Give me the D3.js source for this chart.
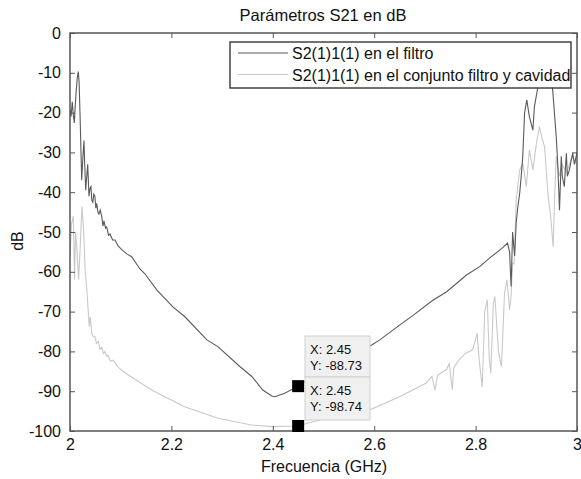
<!DOCTYPE html>
<html>
<head>
<meta charset="utf-8">
<script src="https://cdn.jsdelivr.net/npm/d3@7"></script>
<style>
  html, body { margin: 0; padding: 0; background: #fff; }
  svg { display: block; font-family: "Liberation Sans", Arial, sans-serif; }
</style>
</head>
<body>
<svg id="chart" width="581" height="479"></svg>
<script>
// ---- Data ----
const title = "Parámetros S21 en dB";
const xLabel = "Frecuencia (GHz)";
const yLabel = "dB";
const xTicks = [2, 2.2, 2.4, 2.6, 2.8, 3];
const xTickLabels = ["2", "2.2", "2.4", "2.6", "2.8", "3"];
const yTicks = [0, -10, -20, -30, -40, -50, -60, -70, -80, -90, -100];
const yTickLabels = ["0", "-10", "-20", "-30", "-40", "-50", "-60", "-70", "-80", "-90", "-100"];
const seriesNames = ["S2(1)1(1) en el filtro", "S2(1)1(1) en el conjunto filtro y cavidad"];

// Series 1: filter
const freqFiltro = [2.000, 2.002, 2.0045, 2.0065, 2.0085, 2.010, 2.012, 2.0145, 2.0164, 2.018, 2.0197, 2.0215, 2.0231, 2.0255, 2.0276, 2.029, 2.031, 2.033, 2.0349, 2.0362, 2.0374, 2.0395, 2.0414, 2.043, 2.045, 2.047, 2.049, 2.051, 2.0526, 2.055, 2.057, 2.0595, 2.0625, 2.065, 2.067, 2.070, 2.0723, 2.076, 2.079, 2.084, 2.0887, 2.095, 2.1025, 2.112, 2.1216, 2.138, 2.1478, 2.1714, 2.203, 2.2266, 2.270, 2.2916, 2.335, 2.3586, 2.3803, 2.398, 2.404, 2.4236, 2.45, 2.50, 2.55, 2.595, 2.611, 2.650, 2.676, 2.715, 2.743, 2.782, 2.808, 2.828, 2.853, 2.863, 2.867, 2.870, 2.873, 2.877, 2.880, 2.883, 2.887, 2.890, 2.893, 2.8966, 2.901, 2.906, 2.913, 2.916, 2.923, 2.930, 2.938, 2.946, 2.952, 2.959, 2.962, 2.9655, 2.969, 2.971, 2.975, 2.979, 2.981, 2.985, 2.9915, 2.995, 3.000];
const dbFiltro   = [-19.3, -21.0, -17.3, -20.5, -22.6, -19.0, -15.0, -11.0, -9.7, -12.5, -20.0, -29.0, -37.0, -31.0, -27.0, -33.0, -39.5, -36.0, -33.0, -37.0, -41.0, -39.0, -38.6, -42.0, -42.5, -40.5, -41.0, -44.0, -42.8, -45.0, -45.5, -44.5, -46.0, -48.5, -47.2, -49.0, -48.7, -50.8, -50.5, -52.0, -52.0, -53.5, -54.5, -55.5, -56.2, -59.3, -60.5, -64.6, -68.8, -71.3, -77.1, -78.8, -83.8, -86.3, -89.7, -91.2, -91.4, -90.5, -88.73, -84.5, -81.3, -78.4, -77.1, -73.4, -71.0, -67.2, -65.0, -60.8, -58.7, -56.5, -54.0, -52.8, -55.0, -63.7, -50.0, -56.0, -47.8, -44.0, -40.2, -36.0, -31.0, -20.1, -16.8, -21.0, -24.4, -18.5, -13.5, -8.0, -7.0, -9.0, -14.3, -26.0, -32.8, -44.5, -31.0, -36.0, -38.6, -30.2, -36.0, -34.4, -30.2, -33.0, -30.0];

// Series 2: filter + cavity
const freqCavidad = [2.000, 2.003, 2.0065, 2.009, 2.011, 2.014, 2.017, 2.020, 2.0236, 2.027, 2.030, 2.033, 2.036, 2.038, 2.040, 2.043, 2.046, 2.049, 2.052, 2.056, 2.059, 2.063, 2.066, 2.069, 2.072, 2.075, 2.080, 2.085, 2.095, 2.110, 2.128, 2.161, 2.226, 2.292, 2.358, 2.400, 2.450, 2.470, 2.500, 2.550, 2.595, 2.650, 2.702, 2.714, 2.720, 2.725, 2.743, 2.748, 2.754, 2.757, 2.768, 2.780, 2.794, 2.800, 2.803, 2.807, 2.813, 2.818, 2.823, 2.827, 2.830, 2.835, 2.838, 2.845, 2.851, 2.857, 2.862, 2.867, 2.870, 2.873, 2.876, 2.880, 2.887, 2.893, 2.900, 2.906, 2.913, 2.920, 2.926, 2.930, 2.936, 2.943, 2.948, 2.953, 2.956, 2.959, 2.965, 2.970, 2.980, 2.990, 3.000];
const dbCavidad   = [-56.0, -48.0, -46.0, -62.0, -50.0, -55.0, -62.0, -54.0, -43.6, -50.0, -60.0, -64.0, -70.0, -73.8, -71.3, -75.5, -76.3, -76.3, -78.0, -77.5, -79.5, -79.0, -80.5, -80.0, -81.2, -81.0, -82.5, -82.2, -84.0, -85.5, -87.0, -89.7, -93.9, -96.8, -98.5, -98.9, -98.74, -98.0, -97.0, -95.5, -94.5, -91.4, -88.0, -86.3, -89.7, -86.0, -84.5, -83.0, -89.7, -84.0, -82.0, -80.5, -79.6, -77.0, -75.4, -82.0, -89.0, -70.0, -67.0, -82.0, -85.5, -68.0, -66.2, -80.0, -83.8, -65.4, -62.0, -69.6, -66.0, -57.8, -58.0, -42.0, -34.4, -32.8, -38.6, -29.4, -34.4, -27.7, -23.5, -26.0, -28.6, -41.0, -46.0, -53.7, -41.0, -31.0, -36.0, -33.0, -35.0, -31.0, -33.0];

// Data tips
const tipX = [2.45, 2.45];
const tipY = [-88.73, -98.74];

// ---- Layout ----
const svg = d3.select("#chart");
const pL = 70, pR = 577, pT = 33, pB = 431;
const x = d3.scaleLinear().domain([2, 3]).range([pL, pR]);
const y = d3.scaleLinear().domain([-100, 0]).range([pB, pT]);

const axisColor = "#555";
const textColor = "#111";
const colFiltro = "#5a5a5a";
const colCavidad = "#c9c9c9";

svg.append("defs").append("clipPath").attr("id", "plotclip")
  .append("rect").attr("x", pL).attr("y", pT).attr("width", pR - pL).attr("height", pB - pT);

const line = d3.line().x(d => x(d[0])).y(d => y(d[1]));

const plot = svg.append("g").attr("clip-path", "url(#plotclip)");
plot.append("path")
  .datum(freqCavidad.map((f, i) => [f, dbCavidad[i]]))
  .attr("fill", "none").attr("stroke", colCavidad).attr("stroke-width", 1.1).attr("d", line);
plot.append("path")
  .datum(freqFiltro.map((f, i) => [f, dbFiltro[i]]))
  .attr("fill", "none").attr("stroke", colFiltro).attr("stroke-width", 1.1).attr("d", line);

function styleAxis(g) {
  g.selectAll(".domain").remove();
  g.selectAll(".tick line").attr("stroke", axisColor).attr("stroke-width", 1);
  g.selectAll(".tick text").attr("fill", textColor).style("font-size", "16px")
    .style("font-family", "'Liberation Sans', Arial, sans-serif");
}
svg.append("g").attr("transform", `translate(${pL},0)`)
  .call(d3.axisLeft(y).tickValues(yTicks).tickSize(-5).tickPadding(9).tickFormat((d, i) => yTickLabels[i]))
  .call(styleAxis);
svg.append("g").attr("transform", `translate(${pR},0)`)
  .call(d3.axisRight(y).tickValues(yTicks).tickSize(-5).tickFormat(""))
  .call(styleAxis);
svg.append("g").attr("transform", `translate(0,${pB})`)
  .call(d3.axisBottom(x).tickValues(xTicks).tickSize(-5).tickPadding(8).tickFormat((d, i) => xTickLabels[i]))
  .call(styleAxis);
svg.append("g").attr("transform", `translate(0,${pT})`)
  .call(d3.axisTop(x).tickValues(xTicks).tickSize(-5).tickFormat(""))
  .call(styleAxis);

svg.append("rect").attr("x", pL).attr("y", pT).attr("width", pR - pL).attr("height", pB - pT)
  .attr("fill", "none").attr("stroke", axisColor).attr("stroke-width", 1.5);

svg.append("text").attr("x", 323).attr("y", 21).attr("text-anchor", "middle")
  .attr("fill", textColor).style("font-size", "16.5px").text(title);
svg.append("text").attr("x", 324).attr("y", 472).attr("text-anchor", "middle")
  .attr("fill", textColor).style("font-size", "16px").text(xLabel);
svg.append("text").attr("transform", "translate(23,241) rotate(-90)").attr("text-anchor", "middle")
  .attr("fill", textColor).style("font-size", "16px").text(yLabel);

const lg = svg.append("g");
lg.append("rect").attr("x", 230).attr("y", 42).attr("width", 341).attr("height", 46)
  .attr("fill", "#fff").attr("stroke", "#444").attr("stroke-width", 1.5);
const legendCols = [colFiltro, colCavidad];
seriesNames.forEach((name, i) => {
  const ly = 53 + i * 21.5;
  lg.append("line").attr("x1", 238).attr("x2", 288).attr("y1", ly).attr("y2", ly)
    .attr("stroke", legendCols[i]).attr("stroke-width", 1.1);
  lg.append("text").attr("x", 292).attr("y", ly + 6).attr("fill", textColor)
    .style("font-size", "16px").text(name);
});

const tipBoxes = [[305, 336], [305, 377]];
tipX.forEach((tx, i) => {
  const [bx, by] = tipBoxes[i];
  svg.append("rect").attr("x", bx).attr("y", by).attr("width", 65).attr("height", i === 0 ? 41 : 43)
    .attr("fill", "#f0f0f0").attr("stroke", "#d0d0d0").attr("stroke-width", 1);
  svg.append("text").attr("x", bx + 5).attr("y", by + 18).attr("fill", textColor)
    .style("font-size", "13px").text("X: " + tx.toFixed(2));
  svg.append("text").attr("x", bx + 5).attr("y", by + 34).attr("fill", textColor)
    .style("font-size", "13px").text("Y: " + tipY[i].toFixed(2));
  svg.append("rect").attr("x", x(tx) - 6).attr("y", y(tipY[i]) - 6).attr("width", 12).attr("height", 12)
    .attr("fill", "#000");
});
</script>
</body>
</html>
